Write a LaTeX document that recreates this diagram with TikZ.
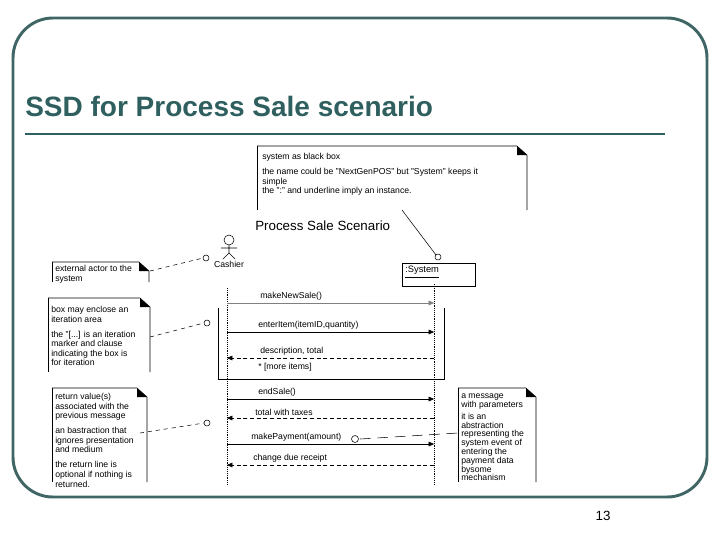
\documentclass[tikz,border=0pt]{standalone}
\usepackage{fontspec}
\setmainfont{Liberation Sans}
\usetikzlibrary{arrows.meta}
\definecolor{slate}{HTML}{2F5F5F}
\tikzset{
  note/.style={draw, thin},
  txt/.style={anchor=north west, inner sep=0pt, font=\fontsize{6.5}{7.2}\selectfont, align=left},
  lbl/.style={anchor=south west, inner sep=0pt, font=\fontsize{6.5}{7.2}\selectfont},
  msg/.style={-{Triangle[length=4pt,width=3.5pt]}, thin},
  ret/.style={densely dashed, -{Triangle[length=4pt,width=3.5pt]}, thin},
  life/.style={densely dotted, thin},
  link/.style={dashed, thin}
}
\newcommand{\notebox}[4]{% x1,y1,x2,y2
  \draw[note] (#1,#2) -- (#3-10,#2) -- (#3,#2+9) -- (#3,#4);
  \draw[note] (#1,#2) -- (#1,#4);
  \fill (#3-10,#2) -- (#3,#2+9) -- (#3-10,#2+9) -- cycle;}
\begin{document}
\begin{tikzpicture}[x=0.75pt, y=-0.75pt]
\useasboundingbox (0,0) rectangle (720,540);
% Frame and title
    \draw[slate!80!gray, line width=2.2pt, rounded corners=30pt] (13,18) rectangle (707,497);
    \node[anchor=base west, inner sep=0pt, text=slate, font=\fontsize{21}{24}\selectfont\bfseries] (title) at (25,116) {SSD for Process Sale scenario};
    \draw[slate, line width=2.2pt] (25,134) -- (665,134);
    \node[anchor=base, inner sep=0pt, font=\fontsize{10}{12}\selectfont] (page) at (603,520) {13};
% Notes
    \notebox{257}{146}{527}{210}
    \node[txt] (n1) at (262,153) {system as black box\\[4pt]the name could be "NextGenPOS" but "System" keeps it\\simple\\the ":" and underline imply an instance.};
    \notebox{52}{262}{149}{282}
    \node[txt] (n2) at (55,265) {external actor to the\\system};
    \notebox{48}{298}{150}{372}
    \node[txt] (n3) at (51,306) {box may enclose an\\iteration area\\[4pt]the "[...] is an iteration\\marker and clause\\indicating the box is\\for iteration};
    \notebox{52}{388}{147}{482}
    \node[txt] (n4) at (55,393) {return value(s)\\associated with the\\previous message\\[4pt]an bastraction that\\ignores presentation\\and medium\\[4pt]the return line is\\optional if nothing is\\returned.};
    \notebox{458}{388}{536}{482}
    \node[txt, font=\fontsize{6.5}{6.6}\selectfont] (n5) at (461,394) {a message\\with parameters\\[2pt]it is an\\abstraction\\representing the\\system event of\\entering the\\payment data\\bysome\\mechanism};
% Actor and system
    \node[font=\fontsize{10}{12}\selectfont, anchor=base west, inner sep=0pt] (scen) at (255,230) {Process Sale Scenario};
    \draw[thin] (229,240) circle (5);
    \draw[thin] (229,245) -- (229,253) (221,248) -- (237,248) (223,259) -- (229,253) -- (235,259);
    \node[txt, anchor=north] (cashier) at (229,261) {Cashier};
    \node[draw, thin, minimum width=55pt, minimum height=17pt] (sys) at (439,274.5) {};
    \node[anchor=west, inner sep=0pt, font=\fontsize{7}{8}\selectfont] (syslbl) at (405,272) {\underline{:System}};
    \draw[thin] (206,258) circle (3);
    \draw[thin] (438,257) circle (3);
    \draw[thin] (207,323) circle (3);
    \draw[thin] (207,423) circle (3);
    \draw[thin] (355,439) circle (3.5);
    \draw[link] (150,271) -- (203,258);
    \draw[thin] (402,210) -- (436,255);
    \draw[link] (150,337) -- (204,323);
    \draw[link] (140,433) -- (204,423);
    \draw[dash pattern=on 8pt off 5pt, thin] (360,439) -- (458,433);
% Lifelines and loop box
    \draw[life] (227,288) -- (227,485);
    \draw[life] (434,284) -- (434,485);
    \draw[thin] (218,308) -- (218,379) -- (444,379) -- (444,308);
% Messages
    \draw[msg, gray] (227,303) -- (434,303);
    \node[lbl] (m1) at (260,301) {makeNewSale()};
    \draw[msg] (227,332) -- (434,332);
    \node[lbl] (m2) at (258,330) {enterItem(itemID,quantity)};
    \draw[ret] (434,358) -- (227,358);
    \node[lbl] (m3) at (260,356) {description, total};
    \node[lbl] (more) at (258,372) {* [more items]};
    \draw[msg] (227,399) -- (434,399);
    \node[lbl] (m4) at (258,397) {endSale()};
    \draw[ret] (434,418) -- (227,418);
    \node[lbl] (m5) at (255,416) {total with taxes};
    \draw[msg] (227,444) -- (434,444);
    \node[lbl] (m6) at (251,442) {makePayment(amount)};
    \draw[ret] (434,465) -- (227,465);
    \node[lbl] (m7) at (253,463) {change due receipt};
\end{tikzpicture}
\end{document}
